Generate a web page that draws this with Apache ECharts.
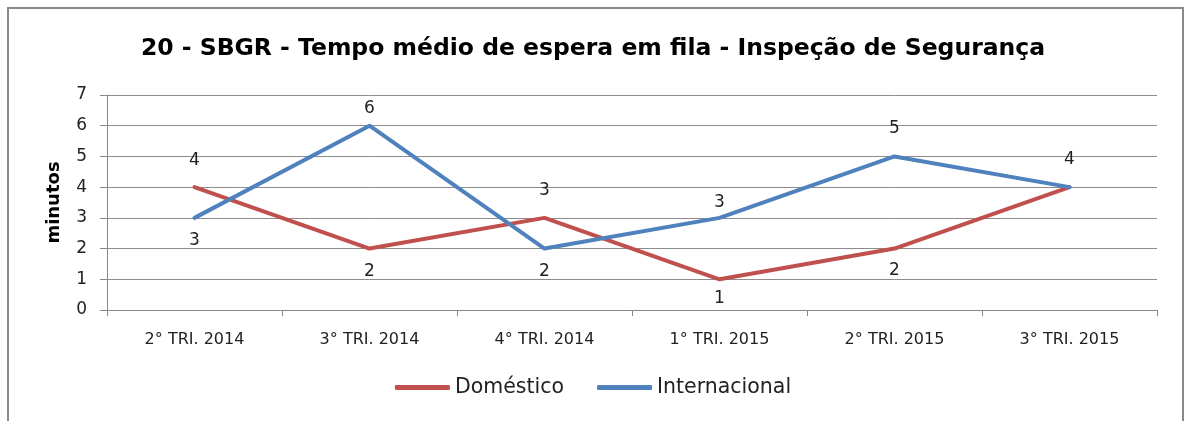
<!DOCTYPE html>
<html>
<head>
<meta charset="utf-8">
<script src="https://cdn.jsdelivr.net/npm/echarts@6/dist/echarts.min.js"></script>
<style>
  html, body { margin: 0; padding: 0; background: #fff; }
  #chart { width: 1186px; height: 421px; }
</style>
</head>
<body>
<div id="chart"></div>
<script>
// Average queue wait time at security inspection, per quarter
const categories = ['2° TRI. 2014', '3° TRI. 2014', '4° TRI. 2014', '1° TRI. 2015', '2° TRI. 2015', '3° TRI. 2015'];
const domestico = [4, 2, 3, 1, 2, 4];
const internacional = [3, 6, 2, 3, 5, 4];
const yTicks = [0, 1, 2, 3, 4, 5, 6, 7];

// Label placement per point: [side, distance]; null hides the label
const domLabelPlace = [['top', 18], ['bottom', 14], ['top', 19], ['bottom', 11], ['bottom', 13], ['top', 19]];
const intLabelPlace = [['bottom', 14], ['top', 9], ['bottom', 14], ['top', 7], ['top', 19], null];

const FONT = 'DejaVu Sans';

function withLabels(values, places) {
  return values.map((v, i) => {
    const p = places[i];
    if (!p) return { value: v, label: { show: false } };
    return { value: v, label: { show: true, position: p[0], distance: p[1] } };
  });
}

function lineSeries(name, values, places, color, z) {
  return {
    name: name,
    type: 'line',
    data: withLabels(values, places),
    symbol: 'circle',
    symbolSize: 0.1,
    showSymbol: true,
    color: color,
    itemStyle: { color: color },
    lineStyle: { width: 4, color: color, cap: 'round', join: 'round' },
    label: { fontFamily: FONT, fontSize: 17, color: '#222' },
    emphasis: { disabled: true },
    z: z
  };
}

const chart = echarts.init(document.getElementById('chart'));
chart.setOption({
  animation: false,
  textStyle: { fontFamily: FONT },
  title: {
    text: '20 - SBGR - Tempo médio de espera em fila - Inspeção de Segurança',
    left: 'center',
    top: 32,
    textStyle: { fontFamily: FONT, fontSize: 23.5, fontWeight: 'bold', color: '#000' }
  },
  graphic: [{
    type: 'rect',
    shape: { x: 8, y: 8, width: 1175, height: 440 },
    style: { fill: 'none', stroke: '#8a8a8a', lineWidth: 2 },
    silent: true
  }],
  legend: {
    bottom: 18,
    left: 'center',
    itemWidth: 55,
    itemHeight: 5,
    itemGap: 33,
    icon: 'roundRect',
    textStyle: { fontFamily: FONT, fontSize: 20.5, color: '#222', padding: [0, 0, 0, 0] },
    data: ['Doméstico', 'Internacional']
  },
  grid: { left: 107, right: 29, top: 95, bottom: 111 },
  xAxis: {
    type: 'category',
    data: categories,
    boundaryGap: true,
    axisLine: { lineStyle: { color: '#888', width: 1 } },
    axisTick: { show: true, length: 6, alignWithLabel: false, lineStyle: { color: '#888' } },
    axisLabel: { fontFamily: FONT, fontSize: 16, color: '#222', margin: 22 }
  },
  yAxis: {
    type: 'value',
    min: yTicks[0],
    max: yTicks[yTicks.length - 1],
    interval: 1,
    name: 'minutos',
    nameLocation: 'middle',
    nameGap: 44,
    nameTextStyle: { fontFamily: FONT, fontSize: 18, fontWeight: 'bold', color: '#000' },
    axisLine: { show: true, lineStyle: { color: '#888', width: 1 } },
    axisTick: { show: true, length: 7, lineStyle: { color: '#888' } },
    axisLabel: { fontFamily: FONT, fontSize: 17, color: '#222', margin: 20 },
    splitLine: { show: true, lineStyle: { color: '#8c8c8c', width: 1 } }
  },
  series: [
    lineSeries('Doméstico', domestico, domLabelPlace, '#C0504D', 2),
    lineSeries('Internacional', internacional, intLabelPlace, '#4F81BD', 3)
  ]
});
</script>
</body>
</html>
